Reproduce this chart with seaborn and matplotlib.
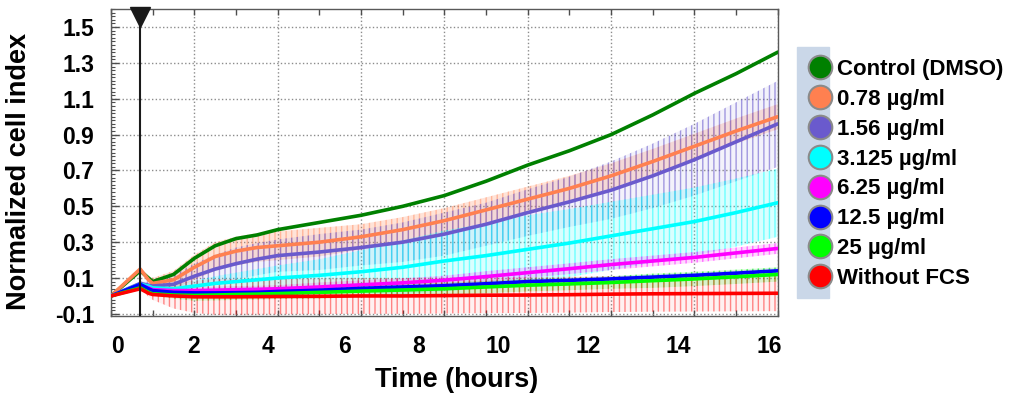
import numpy as np
import pandas as pd
import matplotlib
matplotlib.use('Agg')
import matplotlib.pyplot as plt
from matplotlib.lines import Line2D
from matplotlib.patches import Rectangle
from matplotlib.colors import to_rgba
import seaborn as sns

# =============================================================================
# 数据
# =============================================================================
time_h = [0, 0.7, 0.9, 1.0, 1.5, 2, 2.5, 3, 3.5, 4, 5, 6, 7, 8, 9, 10, 11, 12, 13, 14, 15, 16]

control = [0.0, 0.14, 0.10, 0.08, 0.12, 0.21, 0.28, 0.32, 0.34, 0.37, 0.41, 0.45, 0.50, 0.56, 0.64,
           0.73, 0.81, 0.90, 1.01, 1.13, 1.24, 1.36]
c_078 = [0.0, 0.15, 0.09, 0.07, 0.09, 0.16, 0.22, 0.25, 0.27, 0.28, 0.30, 0.33, 0.37, 0.42, 0.48,
         0.54, 0.60, 0.67, 0.75, 0.835, 0.92, 1.0]
c_156 = [0.0, 0.07, 0.06, 0.055, 0.065, 0.11, 0.15, 0.18, 0.205, 0.225, 0.245, 0.27, 0.30, 0.345, 0.40,
         0.465, 0.525, 0.59, 0.67, 0.76, 0.86, 0.96]
c_3125 = [0.0, 0.065, 0.055, 0.045, 0.04, 0.055, 0.07, 0.08, 0.09, 0.10, 0.115, 0.135, 0.16, 0.195, 0.225,
          0.26, 0.295, 0.335, 0.375, 0.415, 0.465, 0.52]
c_625 = [0.0, 0.06, 0.045, 0.035, 0.03, 0.03, 0.032, 0.035, 0.037, 0.04, 0.05, 0.062, 0.073, 0.088, 0.108,
         0.13, 0.152, 0.175, 0.195, 0.215, 0.24, 0.265]
c_125 = [0.0, 0.065, 0.04, 0.03, 0.02, 0.017, 0.017, 0.018, 0.02, 0.025, 0.032, 0.042, 0.05, 0.057, 0.068,
         0.08, 0.087, 0.095, 0.105, 0.115, 0.127, 0.14]
c_25 = [0.0, 0.045, 0.02, 0.012, 0.005, 0.003, 0.005, 0.008, 0.01, 0.013, 0.02, 0.027, 0.033, 0.04, 0.05,
        0.06, 0.067, 0.075, 0.085, 0.095, 0.107, 0.12]
no_fcs = [0.0, 0.04, 0.015, 0.008, 0.0, -0.005, -0.005, -0.005, -0.004, -0.003, -0.002, 0.0, 0.0, 0.002, 0.004,
          0.005, 0.007, 0.01, 0.012, 0.013, 0.014, 0.015]

# 误差 (标准差)
sd_control = [0] * 22
sd_078 = [0, 0.01, 0.02, 0.03, 0.05, 0.07, 0.08, 0.08, 0.08, 0.08, 0.08, 0.07, 0.07, 0.07, 0.07,
          0.07, 0.07, 0.07, 0.07, 0.07, 0.07, 0.07]
sd_156 = [0, 0.01, 0.02, 0.03, 0.05, 0.07, 0.08, 0.09, 0.09, 0.09, 0.10, 0.10, 0.11, 0.12, 0.12,
          0.13, 0.14, 0.16, 0.18, 0.20, 0.22, 0.24]
sd_3125 = [0, 0.01, 0.01, 0.01, 0.02, 0.03, 0.04, 0.05, 0.06, 0.07, 0.09, 0.12, 0.15, 0.17, 0.18,
           0.19, 0.19, 0.19, 0.19, 0.19, 0.19, 0.19]
sd_625 = [0, 0.0, 0.01, 0.01, 0.02, 0.02, 0.02, 0.02, 0.02, 0.02, 0.025, 0.025, 0.025, 0.025, 0.03,
          0.03, 0.03, 0.03, 0.03, 0.03, 0.03, 0.03]
sd_125 = [0, 0.0, 0.01, 0.01, 0.01, 0.01, 0.01, 0.01, 0.01, 0.015, 0.015, 0.015, 0.015, 0.015, 0.015,
          0.015, 0.015, 0.015, 0.015, 0.015, 0.015, 0.015]
sd_25 = [0, 0.0, 0.01, 0.01, 0.02, 0.03, 0.03, 0.03, 0.03, 0.03, 0.035, 0.035, 0.035, 0.035, 0.035,
         0.035, 0.035, 0.035, 0.04, 0.04, 0.04, 0.04]
sd_no_fcs = [0, 0.0, 0.02, 0.03, 0.07, 0.09, 0.10, 0.10, 0.10, 0.10, 0.10, 0.10, 0.10, 0.10, 0.10,
             0.10, 0.10, 0.10, 0.10, 0.10, 0.10, 0.10]

groups = ['Control (DMSO)', '0.78 µg/ml', '1.56 µg/ml', '3.125 µg/ml',
          '6.25 µg/ml', '12.5 µg/ml', '25 µg/ml', 'Without FCS']
values = [control, c_078, c_156, c_3125, c_625, c_125, c_25, no_fcs]
sds = [sd_control, sd_078, sd_156, sd_3125, sd_625, sd_125, sd_25, sd_no_fcs]
colors = ['#008000', '#ff8050', '#6a5acd', '#00ffff', '#ff00ff', '#0000ff', '#00ff00', '#ff0000']
# 误差棒: 底色透明度, 竖线透明度
fill_alpha = [0.0, 0.22, 0.08, 0.15, 0.15, 0.1, 0.15, 0.06]
bar_alpha = [0.0, 0.45, 0.6, 0.5, 0.5, 0.4, 0.5, 0.45]

addition_time = 0.7  # 加药时间

y_ticks = [-0.1, 0.1, 0.3, 0.5, 0.7, 0.9, 1.1, 1.3, 1.5]
y_tick_labels = ['-0.1', '0.1', '0.3', '0.5', '0.7', '0.9', '1.1', '1.3', '1.5']
# 横轴标签位置(原图标签与网格不完全对齐)
x_label_pos = [0.15, 1.98, 3.77, 5.6, 7.38, 9.3, 11.44, 13.62, 15.8]
x_labels = ['0', '2', '4', '6', '8', '10', '12', '14', '16']

# =============================================================================
# 绘图
# =============================================================================
sns.set_theme(style='white')
plt.rcParams['font.family'] = ['Liberation Sans', 'DejaVu Sans']
plt.rcParams['font.weight'] = 'bold'
plt.rcParams['axes.labelweight'] = 'bold'
plt.rcParams['text.color'] = 'black'
plt.rcParams['axes.labelcolor'] = 'black'
plt.rcParams['xtick.color'] = 'black'
plt.rcParams['ytick.color'] = 'black'
plt.rcParams['hatch.linewidth'] = 1.0

df = pd.DataFrame({
    'time': np.tile(time_h, len(groups)),
    'value': np.concatenate(values),
    'group': np.repeat(groups, len(time_h)),
})

fig = plt.figure(figsize=(10.14, 3.98), dpi=100)
ax = fig.add_axes([0.1095, 0.206, 0.6575, 0.771])

# 误差棒 (密集竖线用 hatch 表示)
for v, s, c, fa, ba in zip(values, sds, colors, fill_alpha, bar_alpha):
    if ba > 0:
        v = np.array(v); s = np.array(s)
        ax.fill_between(time_h, v - s, v + s, facecolor=to_rgba(c, fa),
                        edgecolor=to_rgba(c, ba), hatch='|||', lw=0, zorder=1)

sns.lineplot(data=df, x='time', y='value', hue='group', hue_order=groups,
             palette=colors, lw=2.6, legend=False, ax=ax, errorbar=None, zorder=3)

# 加药时间竖线
ax.axvline(addition_time, color='k', lw=1.5, zorder=4)
ax.plot([addition_time], [1.555], marker='v', ms=14, color='k', clip_on=False, zorder=5)

ax.set_xlim(0, 16)
ax.set_ylim(-0.112, 1.6)
ax.set_xticks(np.arange(0, 17, 2))
ax.set_xticks(np.arange(1, 16, 2), minor=True)
ax.set_yticks(y_ticks, labels=y_tick_labels)
ax.set_yticks(np.arange(-0.1, 1.6, 0.02), minor=True)
ax.tick_params(axis='x', which='both', direction='in', top=True, bottom=True,
               labelbottom=False, length=4, width=1, color='0.3')
ax.tick_params(axis='y', which='major', direction='in', left=True, right=False,
               length=6, width=1, labelsize=16.5, pad=12, color='0.3')
ax.tick_params(axis='y', which='minor', direction='in', left=True, right=False,
               length=3, width=0.8, color='0.3')
ax.grid(True, which='major', linestyle=':', color='0.55', lw=1)
for sp in ax.spines.values():
    sp.set_color('0.35')
    sp.set_linewidth(1)

sec = ax.secondary_xaxis('bottom')
sec.set_xticks(x_label_pos, labels=x_labels)
sec.tick_params(length=0, pad=14, labelsize=16.5)
sec.spines['bottom'].set_visible(False)

ax.set_xlabel('Time (hours)', fontsize=19.5, fontweight='bold')
ax.set_ylabel('Normalized cell index', fontsize=19.5, fontweight='bold')
ax.xaxis.set_label_coords(0.519, -0.165)
ax.yaxis.set_label_coords(-0.118, 0.47)

# 图例
fig.patches.append(Rectangle((797 / 1014, 1 - 298 / 398), 32 / 1014, 251 / 398,
                             transform=fig.transFigure, color='#cad7e8', zorder=0))
handles = [Line2D([], [], marker='o', ls='', ms=17, markerfacecolor=c,
                  markeredgecolor='#8a8a8a', markeredgewidth=1.5) for c in colors]
fig.legend(handles, groups, loc='upper left', bbox_to_anchor=(0.782, 0.88),
           frameon=False, labelspacing=0.4, handletextpad=0.1,
           handlelength=1.4, borderpad=0, prop={'weight': 'bold', 'size': 16})

fig.savefig('out.png', dpi=100)
